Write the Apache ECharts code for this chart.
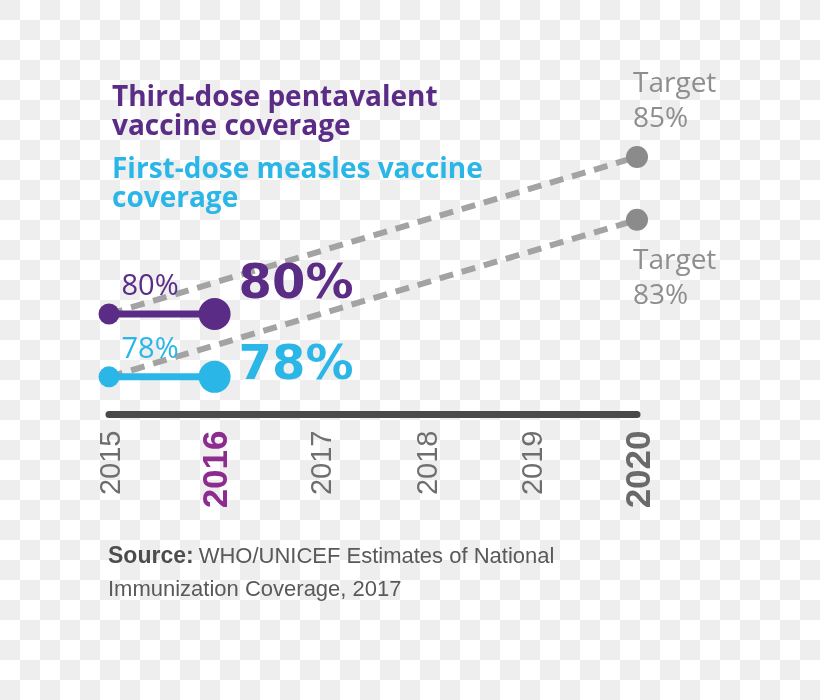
<!DOCTYPE html>
<html>
<head>
<meta charset="utf-8">
<title>Vaccine coverage</title>
<script src="https://cdn.jsdelivr.net/npm/echarts@6/dist/echarts.min.js"></script>
<style>
    html, body { margin: 0; padding: 0; }
    body {
        /* transparent-image checkerboard */
        background: repeating-conic-gradient(#ffffff 0% 25%, #eeeeee 0% 50%) 0 0 / 40px 40px;
    }
    #chart { width: 820px; height: 700px; }
</style>
</head>
<body>
<div id="chart"></div>
<script>
const years = ['2015', '2016', '2017', '2018', '2019', '2020']
const pentavalent = [80, 80, null, null, null, null]
const measles = [78, 78, null, null, null, null]
const pentaTarget = [80, null, null, null, null, 85]
const measlesTarget = [78, null, null, null, null, 83]

const purple = '#5b2c86'
const cyan = '#2bb6e8'
const grey = '#8e8e8e'

// points for the two measured years: small label on 2015, big one on 2016
function coverageData(values, color, smallDy, bigDy) {
    return values.map((v, i) => {
        if (v === null) return '-'
        const big = i === 1
        return {
            value: v,
            symbolSize: big ? 32 : 21,
            label: {
                show: true,
                position: 'right',
                distance: 0,
                offset: big ? [8, bigDy] : [2, smallDy],
                formatter: '{c}%',
                color: color,
                fontFamily: big ? 'DejaVu Sans' : 'Open Sans',
                fontWeight: big ? 'bold' : 'normal',
                fontSize: big ? 48 : 29
            }
        }
    })
}

// dashed trend to the 2020 target, dot + "Target" label at the end
function targetData(values, position, dy) {
    return values.map((v, i) => {
        if (v === null) return '-'
        if (i === 0) return { value: v, symbol: 'none' }
        return {
            value: v,
            label: {
                show: true,
                position: position,
                distance: 0,
                align: 'left',
                offset: [-4, dy],
                formatter: 'Target\n{c}%',
                color: grey,
                fontFamily: 'Open Sans',
                fontSize: 28,
                lineHeight: 35
            }
        }
    })
}

const dashed = {
    type: 'line',
    connectNulls: true,
    symbol: 'circle',
    symbolSize: 22,
    itemStyle: { color: '#8b8b8b' },
    lineStyle: { color: '#a3a3a3', width: 6, type: [14, 9] }
}

const solid = color => ({
    type: 'line',
    symbol: 'circle',
    itemStyle: { color: color },
    lineStyle: { color: color, width: 7 }
})

const option = {
    animation: false,
    title: [
        {
            text: 'Third-dose pentavalent\nvaccine coverage',
            left: 112,
            top: 84,
            padding: 0,
            textStyle: { color: purple, fontSize: 28, fontWeight: 'bold', fontFamily: 'Open Sans', lineHeight: 28.5 }
        },
        {
            text: 'First-dose measles vaccine\ncoverage',
            left: 112,
            top: 156,
            padding: 0,
            textStyle: { color: cyan, fontSize: 28, fontWeight: 'bold', fontFamily: 'Open Sans', lineHeight: 28.5 }
        },
        {
            text: '{b|Source:} {t|WHO/UNICEF Estimates of National}\n{t|Immunization Coverage, 2017}',
            left: 108,
            top: 540,
            padding: 0,
            textStyle: {
                rich: {
                    b: { color: '#4d4d4d', fontWeight: 'bold', fontSize: 23, fontFamily: 'Liberation Sans', lineHeight: 33 },
                    t: { color: '#595959', fontWeight: 'normal', fontSize: 22, fontFamily: 'Liberation Sans', lineHeight: 33 }
                }
            }
        }
    ],
    grid: {
        left: 109,
        right: 183,
        top: 62.8,
        bottom: 285.5
    },
    xAxis: {
        type: 'category',
        data: years,
        boundaryGap: false,
        axisTick: { show: false },
        axisLine: { onZero: false, lineStyle: { color: '#4a4a4a', width: 7 } },
        axisLabel: {
            rotate: 90,
            margin: 16,
            interval: 0,
            padding: [6, 0, 0, 0],
            color: '#6e6e6e',
            fontSize: 29,
            fontFamily: 'Liberation Sans',
            formatter: v => v === '2016' ? '{now|' + v + '}' : v === '2020' ? '{goal|' + v + '}' : v,
            rich: {
                now: { color: '#8e2b8f', fontWeight: 'bold', fontSize: 35, fontFamily: 'Liberation Sans' },
                goal: { color: '#6a6a6a', fontWeight: 'bold', fontSize: 35, fontFamily: 'Liberation Sans' }
            }
        }
    },
    yAxis: {
        type: 'value',
        show: false,
        min: 76.8,
        max: 88,
        splitLine: { show: false }
    },
    series: [
        Object.assign({ name: 'Pentavalent target', data: targetData(pentaTarget, 'top', -9) }, dashed),
        Object.assign({ name: 'Measles target', data: targetData(measlesTarget, 'bottom', 13) }, dashed),
        Object.assign({ name: 'Third-dose pentavalent', data: coverageData(pentavalent, purple, -27.5, -28.5) }, solid(purple)),
        Object.assign({ name: 'First-dose measles', data: coverageData(measles, cyan, -27, -10.5) }, solid(cyan))
    ]
}

const chart = echarts.init(document.getElementById('chart'))
chart.setOption(option)
window.addEventListener('resize', () => chart.resize())
</script>
</body>
</html>
